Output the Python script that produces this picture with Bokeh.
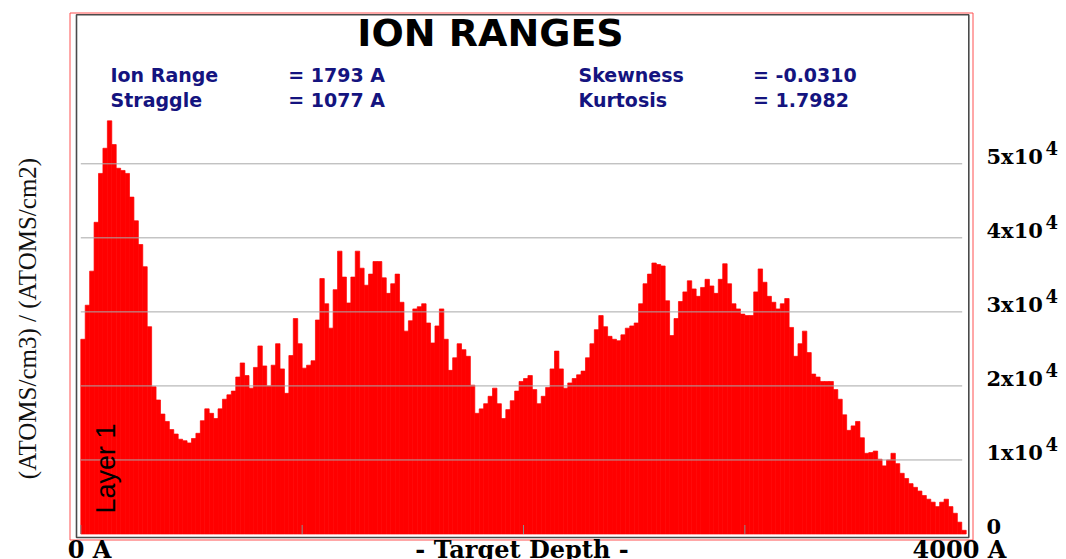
import math
from bokeh.plotting import figure
from bokeh.models import Label, Range1d
from bokeh.embed import file_html
from bokeh.resources import INLINE

# ---------------- data ----------------
bin_width_A = 20
# ion concentration per 20 A bin, in units of 1e4 (ATOMS/cm3)/(ATOMS/cm2)
concentration_e4 = [
    2.63, 3.09, 3.55, 4.21, 4.87, 5.21, 5.58, 5.26, 4.94, 4.91,
    4.87, 4.55, 4.23, 3.91, 3.61, 2.80, 1.99, 1.81, 1.62, 1.52,
    1.41, 1.35, 1.28, 1.26, 1.23, 1.29, 1.36, 1.53, 1.69, 1.63,
    1.56, 1.69, 1.82, 1.88, 1.93, 2.12, 2.31, 2.14, 1.97, 2.25,
    2.54, 2.27, 2.00, 2.28, 2.57, 2.23, 1.90, 2.41, 2.91, 2.57,
    2.24, 2.28, 2.34, 2.89, 3.45, 3.11, 2.78, 3.30, 3.82, 3.47,
    3.12, 3.47, 3.82, 3.59, 3.36, 3.51, 3.68, 3.68, 3.46, 3.25,
    3.38, 3.51, 3.13, 2.74, 2.88, 3.04, 3.07, 3.11, 2.85, 2.58,
    2.81, 3.04, 2.63, 2.21, 2.38, 2.57, 2.49, 2.40, 2.01, 1.63,
    1.69, 1.76, 1.86, 1.97, 1.76, 1.56, 1.68, 1.80, 1.93, 2.06,
    2.10, 2.14, 1.95, 1.76, 1.86, 1.98, 2.23, 2.47, 2.23, 1.97,
    2.04, 2.10, 2.15, 2.20, 2.38, 2.57, 2.76, 2.95, 2.80, 2.67,
    2.63, 2.61, 2.69, 2.78, 2.81, 2.85, 3.11, 3.38, 3.51, 3.66,
    3.64, 3.62, 3.15, 2.68, 2.91, 3.14, 3.27, 3.42, 3.31, 3.21,
    3.33, 3.44, 3.35, 3.25, 3.44, 3.65, 3.38, 3.11, 3.04, 2.97,
    2.95, 2.95, 3.27, 3.58, 3.40, 3.21, 3.13, 3.04, 3.11, 3.18,
    2.79, 2.40, 2.57, 2.74, 2.45, 2.16, 2.12, 2.06, 2.06, 2.06,
    1.95, 1.82, 1.61, 1.40, 1.46, 1.52, 1.30, 1.09, 1.10, 1.12,
    1.01, 0.92, 1.00, 1.09, 0.95, 0.82, 0.75, 0.68, 0.63, 0.58,
    0.52, 0.47, 0.43, 0.37, 0.43, 0.47, 0.37, 0.28, 0.16, 0.05,
]
bin_start_A = [i * bin_width_A for i in range(len(concentration_e4))]
bin_end_A = [s + bin_width_A for s in bin_start_A]

y_ticks_e4 = [0, 1, 2, 3, 4, 5]
y_tick_labels = ["0", "1x10", "2x10", "3x10", "4x10", "5x10"]
y_tick_exponent = "4"
x_minor_ticks_A = [0, 1000, 2000, 3000]
x_end_labels = ["0 A", "4000 A"]
x_title = "- Target Depth -"
y_title = "(ATOMS/cm3) / (ATOMS/cm2)"
chart_title = "ION RANGES"
layer_name = "Layer 1"
stat_names_left = ["Ion Range", "Straggle"]
stat_values_left = ["=  1793 A", "=  1077 A"]
stat_names_right = ["Skewness", "Kurtosis"]
stat_values_right = ["= -0.0310", "= 1.7982"]

# ---------------- geometry (canvas pixels) ----------------
W, H = 1066, 559
X0_PX, X4000_PX = 80.3, 965.7                    # 0 A and 4000 A
PX_PER_A = (X4000_PX - X0_PX) / 4000.0
Y0_PX, PX_PER_UNIT = 533.5, 74.04                # y=0 and px per 1e4
BASE_SHIFT = 0.39                                # label baseline correction (em)


def px_x(cx):
    return (cx - X0_PX) / PX_PER_A


def px_y(cy):
    return (Y0_PX - cy) / PX_PER_UNIT


p = figure(width=W, height=H, output_backend="svg", toolbar_location=None,
           x_axis_location=None, y_axis_location=None,
           x_range=Range1d(px_x(0), px_x(W)),
           y_range=Range1d(px_y(H), px_y(0)),
           min_border_left=0, min_border_right=0,
           min_border_top=0, min_border_bottom=0)
p.xgrid.visible = False
p.ygrid.visible = False
p.background_fill_color = "white"
p.border_fill_color = "white"
p.outline_line_color = None


def add_text(x_px, y_px, text, size, font, bold=False, color="black",
             align="left", angle=0.0):
    """Place a text whose alphabetic baseline passes through (x_px, y_px)."""
    if angle == 0.0:
        y_px = y_px - BASE_SHIFT * size
    else:
        x_px = x_px - BASE_SHIFT * size
    p.add_layout(Label(x=px_x(x_px), y=px_y(y_px), text=text, angle=angle,
                       text_align=align, text_baseline="alphabetic",
                       text_font=font, text_font_style="bold" if bold else "normal",
                       text_font_size=f"{size}px", text_color=color))


# red outer box and dark inner box
p.quad(left=[px_x(69.5)], right=[px_x(972.5)], top=[px_y(12.5)], bottom=[px_y(539.5)],
       fill_color=None, line_color="#ff5050", line_width=1)
p.quad(left=[px_x(76)], right=[px_x(968.3)], top=[px_y(14.3)], bottom=[px_y(537)],
       fill_color=None, line_color="#4a4a4a", line_width=1.6)

# histogram bars
p.quad(left=bin_start_A, right=bin_end_A, bottom=0, top=concentration_e4,
       fill_color="#ff0000", line_color="#ff0000", line_width=0.7)

# horizontal grid lines over the bars
grid_end_A = px_x(961.7)
p.segment(x0=[0] * 5, x1=[grid_end_A] * 5, y0=y_ticks_e4[1:], y1=y_ticks_e4[1:],
          line_color="#a8a8a8", line_width=1)

# short depth ticks on the baseline
tick_len = 9 / PX_PER_UNIT
p.segment(x0=x_minor_ticks_A, x1=x_minor_ticks_A, y0=[0] * len(x_minor_ticks_A),
          y1=[tick_len] * len(x_minor_ticks_A), line_color="#8c8c8c", line_width=1)

# title
add_text(490, 47.5, chart_title, 38, "DejaVu Sans", bold=True, align="center")

# statistics
navy = "#14147f"
for i, row_y in enumerate([82, 107]):
    for cx, txt in [(110, stat_names_left[i]), (287.7, stat_values_left[i]),
                    (578, stat_names_right[i]), (752.5, stat_values_right[i])]:
        add_text(cx, row_y, txt, 19, "DejaVu Sans", bold=True, color=navy)

# right-hand concentration labels
for v, lab in zip(y_ticks_e4, y_tick_labels):
    base = Y0_PX - v * PX_PER_UNIT + 1
    add_text(986, base, lab, 21, "DejaVu Serif", bold=True)
    if v != 0:
        add_text(1045, base - 10, y_tick_exponent, 18, "DejaVu Serif", bold=True)

# bottom labels (depth axis)
for lab, cx in zip(x_end_labels, [89, 959]):
    add_text(cx, 558, lab, 24, "DejaVu Serif", bold=True, align="center")
add_text(521.5, 558, x_title, 24, "DejaVu Serif", bold=True, align="center")

# rotated y title
add_text(36.5, 318, y_title, 25, "Liberation Serif", color="#111111",
         align="center", angle=math.pi / 2)

# layer name
add_text(116, 468, layer_name, 27, "Liberation Sans", align="center",
         angle=math.pi / 2)

open("out.html", "w").write(file_html(p, INLINE))
